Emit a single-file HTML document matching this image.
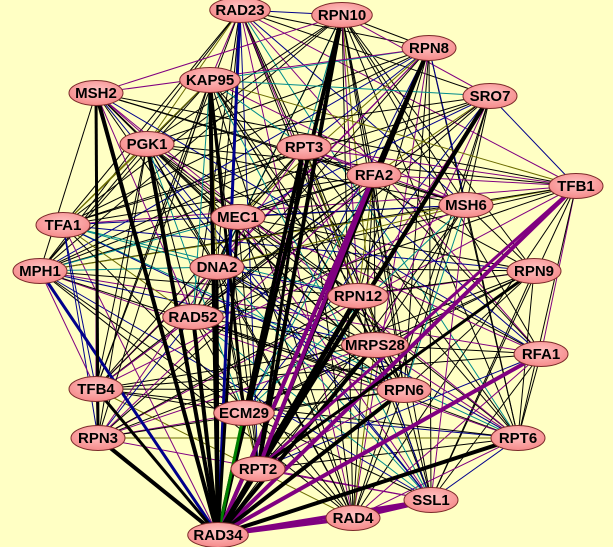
<!DOCTYPE html>
<html><head><meta charset="utf-8"><style>
html,body{margin:0;padding:0;background:#ffffc4;}
svg{display:block}
text{font-family:"Liberation Sans",sans-serif;font-size:15px;font-weight:bold;fill:#000;}
</style></head><body>
<svg id="s" width="613" height="547" xmlns="http://www.w3.org/2000/svg">
<defs><radialGradient id="g" cx="0.5" cy="0.4" r="0.6"><stop offset="0" stop-color="#ffc4c4"/><stop offset="1" stop-color="#f58a8a"/></radialGradient></defs>
<rect width="613" height="547" fill="#ffffc4"/>
<g id="e"></g><g id="n"></g>
</svg>
<script>
var N={RAD23:[240,10],RPN10:[342,15],RPN8:[429,48],SRO7:[490,96],TFB1:[576,186],RPN9:[534,271],RFA1:[541,354],RPT6:[518,438],SSL1:[431,500],RAD4:[353,518],RAD34:[218,535],RPT2:[258,469],ECM29:[244,413],RPN6:[404,390],MRPS28:[375,345],RPN12:[358,296],MSH6:[466,205],RFA2:[374,175],RPT3:[304,147],MEC1:[238,217],DNA2:[217,267],RAD52:[193,317],PGK1:[147,144],KAP95:[210,80],MSH2:[96,93],TFA1:[63,225],MPH1:[40,271],TFB4:[96,389],RPN3:[98,438]};
var k=Object.keys(N),E=document.getElementById('e'),ns='http://www.w3.org/2000/svg';
function L(a,b,c,w){var l=document.createElementNS(ns,'line');l.setAttribute('x1',N[a][0]);l.setAttribute('y1',N[a][1]);l.setAttribute('x2',N[b][0]);l.setAttribute('y2',N[b][1]);l.setAttribute('stroke',c);l.setAttribute('stroke-width',w);E.appendChild(l);}
var seed=7;function r(){seed=(seed*16807)%2147483647;return seed/2147483647;}
var cols=['#000','#000','#000','#000','#000','#000','#000','#000','#800080','#800080','#008b8b','#00008b','#6b6b00'];
for(var i=0;i<k.length;i++)for(var j=i+1;j<k.length;j++){if(r()<0.75){L(k[i],k[j],cols[Math.floor(r()*cols.length)],1);}}
var T=[['RAD23','#00008b',3],['KAP95','#000',4],['MSH2','#000',4],['PGK1','#000',4],['RPN10','#000',4],['RPN8','#000',4],['SRO7','#000',4],['RPT3','#000',4],['RFA2','#800080',4],['TFB1','#800080',4],['RPN12','#000',5],['MRPS28','#000',4],['RPN6','#000',4],['RPT6','#000',4],['RFA1','#800080',4],['RAD4','#800080',4],['RPT2','#000',4],['ECM29','#008000',3],['MPH1','#00008b',3],['RPN3','#000',4],['RAD52','#000',4],['TFB4','#000',3],['SSL1','#800080',4],['DNA2','#000',3],['MEC1','#000',3]];
T.forEach(function(t){L('RAD34',t[0],t[1],t[2]);});
L('RPN10','RPT2','#000',4);L('RPN8','RPT2','#000',3);L('SRO7','RPT2','#000',4);L('RFA2','RPT2','#800080',4);L('TFB1','RPT2','#800080',3);L('KAP95','ECM29','#000',3);L('RPT3','RPT2','#000',3);L('RAD4','SSL1','#800080',4);L('RPN9','RPT2','#000',3);L('MSH2','RPN3','#000',3);
var G=document.getElementById('n');
k.forEach(function(a){var x=N[a][0],y=N[a][1],w=a.length*6.5+20;
var el=document.createElementNS(ns,'ellipse');el.setAttribute('cx',x);el.setAttribute('cy',y);el.setAttribute('rx',w/2+4);el.setAttribute('ry',12.5);el.setAttribute('fill','url(#g)');el.setAttribute('stroke','#7a2a2a');el.setAttribute('stroke-width','1');G.appendChild(el);
var t=document.createElementNS(ns,'text');t.setAttribute('x',x);t.setAttribute('y',y+5);t.setAttribute('text-anchor','middle');t.textContent=a;G.appendChild(t);});
</script>
</body></html>
